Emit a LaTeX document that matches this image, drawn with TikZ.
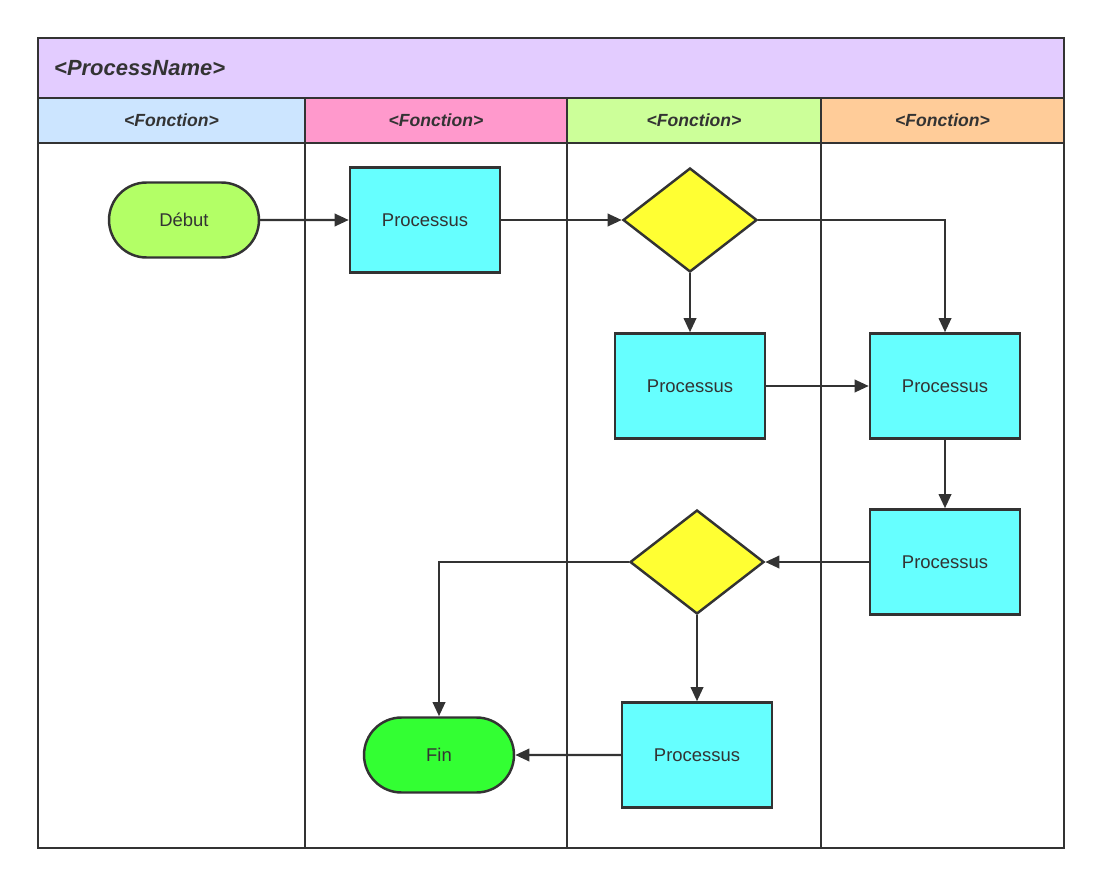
\documentclass[tikz,border=0pt]{standalone}
\usepackage{fontspec}
\setmainfont{Liberation Sans}
\usetikzlibrary{shapes.geometric, shapes.misc, arrows.meta, positioning}
\definecolor{lanetitle}{HTML}{E3CCFF}
\definecolor{laneA}{HTML}{CCE5FF}
\definecolor{laneB}{HTML}{FF99CC}
\definecolor{laneC}{HTML}{CCFF99}
\definecolor{laneD}{HTML}{FFCC99}
\definecolor{procfill}{HTML}{66FFFF}
\definecolor{decfill}{HTML}{FFFF33}
\definecolor{startfill}{HTML}{B3FF66}
\definecolor{endfill}{HTML}{33FF33}
\definecolor{ink}{HTML}{333333}
\tikzset{
  process/.style={draw=ink, line width=1.4pt, fill=procfill, minimum width=3cm, minimum height=2.1cm, text=ink, font=\fontsize{10.5}{12}\selectfont},
  decision/.style={draw=ink, line width=1.4pt, fill=decfill, diamond, aspect=1.29, minimum width=2.68cm, minimum height=2.08cm, inner sep=0pt},
  terminal/.style={draw=ink, line width=1.4pt, rounded rectangle, minimum width=3cm, minimum height=1.5cm, text=ink, font=\fontsize{10.5}{12}\selectfont},
  flow/.style={draw=ink, line width=1.4pt, -{Triangle[length=8pt,width=7pt]}},
  header/.style={draw=ink, line width=1.4pt, font=\bfseries\itshape\fontsize{10}{12}\selectfont, text=ink}
}
\begin{document}
\begin{tikzpicture}[x=0.02cm, y=-0.02cm]
    \useasboundingbox (0,0) rectangle (1101,885);
    % Bandeau et couloirs
    \draw[header, fill=lanetitle] (38,38) rectangle (1064,98);
    \node[anchor=west, font=\bfseries\itshape\fontsize{12.5}{14}\selectfont, text=ink] (title) at (48,68) {<ProcessName>};
    \draw[header, fill=laneA] (38,98) rectangle (305,143) node[midway] (fa) {<Fonction>};
    \draw[header, fill=laneB] (305,98) rectangle (567,143) node[midway] (fb) {<Fonction>};
    \draw[header, fill=laneC] (567,98) rectangle (821,143) node[midway] (fc) {<Fonction>};
    \draw[header, fill=laneD] (821,98) rectangle (1064,143) node[midway] (fd) {<Fonction>};
    \draw[ink, line width=1.4pt] (38,143) rectangle (305,848);
    \draw[ink, line width=1.4pt] (305,143) rectangle (567,848);
    \draw[ink, line width=1.4pt] (567,143) rectangle (821,848);
    \draw[ink, line width=1.4pt] (821,143) rectangle (1064,848);
    % Noeuds
    \node[terminal, fill=startfill, minimum width=3cm, inner xsep=0pt] (debut) at (184,220) {Début};
    \node[process] (p1) at (425,220) {Processus};
    \node[decision] (d1) at (690,220) {};
    \node[process] (p2) at (690,386) {Processus};
    \node[process] (p3) at (945,386) {Processus};
    \node[process] (p4) at (945,562) {Processus};
    \node[decision] (d2) at (697,562) {};
    \node[process] (p5) at (697,755) {Processus};
    \node[terminal, fill=endfill, inner xsep=0pt] (fin) at (439,755) {Fin};
    % Liens
    \draw[flow] (debut) -- (p1);
    \draw[flow] (p1) -- (d1);
    \draw[flow] (d1.east) -| (p3.north);
    \draw[flow] (d1) -- (p2);
    \draw[flow] (p2) -- (p3);
    \draw[flow] (p3) -- (p4);
    \draw[flow] (p4) -- (d2);
    \draw[flow] (d2.west) -| (fin.north);
    \draw[flow] (d2) -- (p5);
    \draw[flow] (p5) -- (fin);
\end{tikzpicture}
\end{document}
